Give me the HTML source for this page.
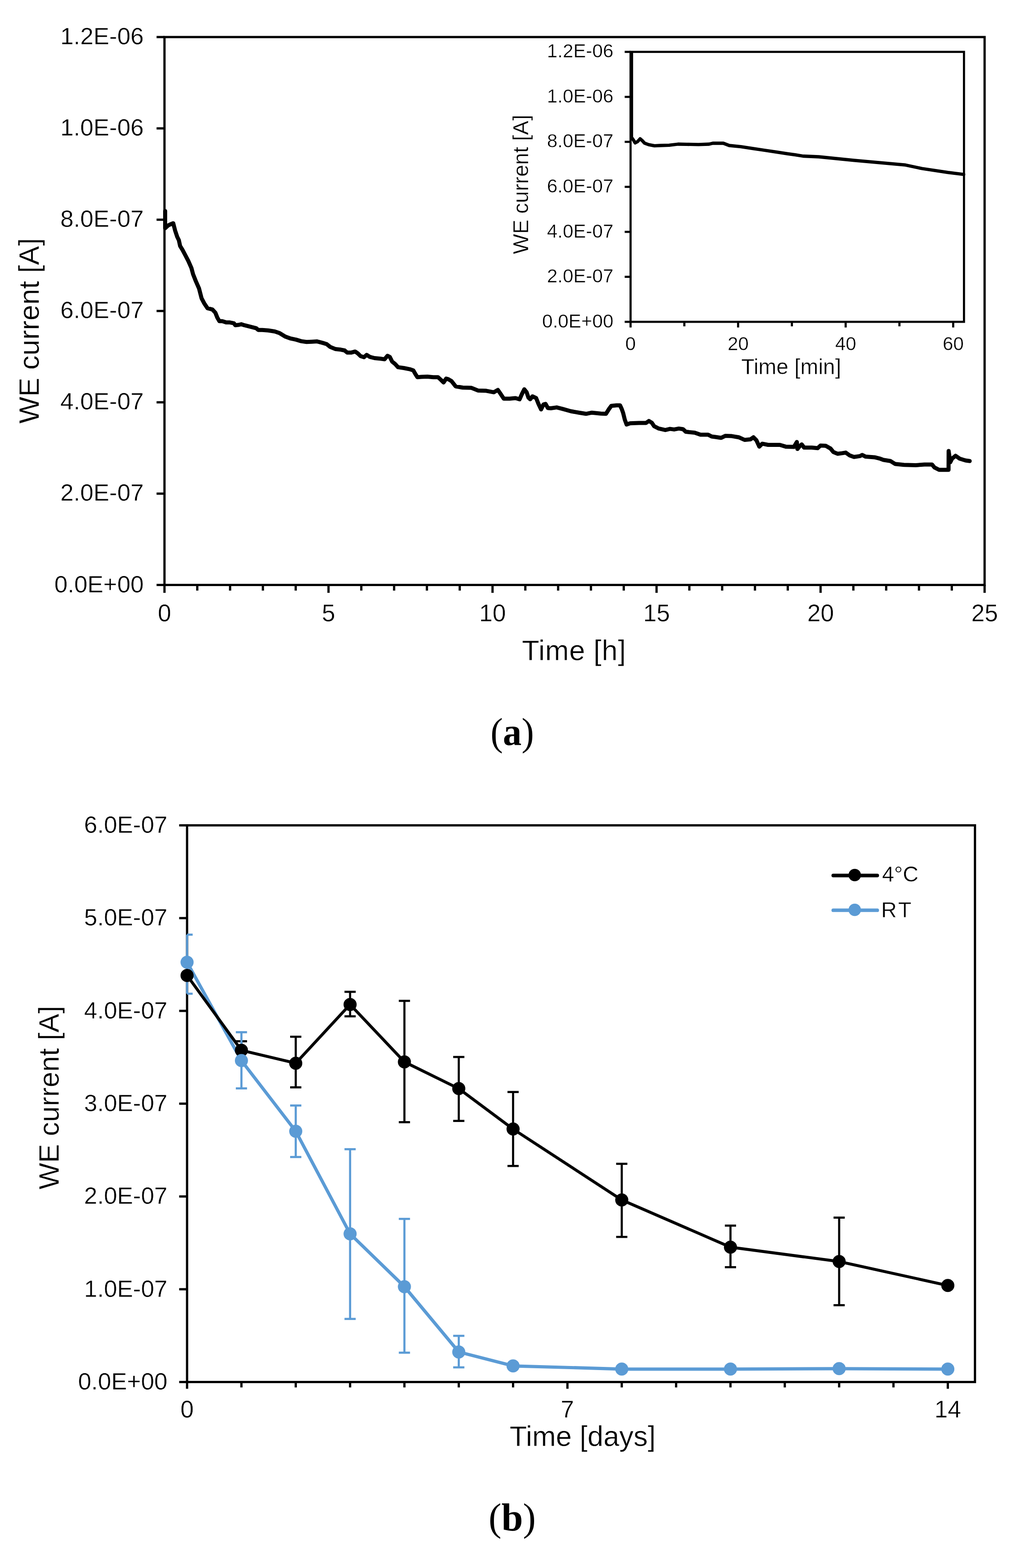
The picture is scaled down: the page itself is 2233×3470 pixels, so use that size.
<!DOCTYPE html>
<html><head><meta charset="utf-8"><title>Figure</title>
<style>html,body{margin:0;padding:0;background:#fff;} svg{display:block;}</style>
</head><body>
<svg width="2233" height="3470" viewBox="0 0 2233 3470">
<rect width="2233" height="3470" fill="#fff"/>
<rect x="364.0" y="82.0" width="1815.0" height="1212.5" fill="none" stroke="#000" stroke-width="5"/>
<line x1="346.5" y1="1294.5" x2="364.0" y2="1294.5" stroke="#000" stroke-width="5" stroke-linecap="butt"/>
<line x1="346.5" y1="1092.4" x2="364.0" y2="1092.4" stroke="#000" stroke-width="5" stroke-linecap="butt"/>
<line x1="346.5" y1="890.3" x2="364.0" y2="890.3" stroke="#000" stroke-width="5" stroke-linecap="butt"/>
<line x1="346.5" y1="688.2" x2="364.0" y2="688.2" stroke="#000" stroke-width="5" stroke-linecap="butt"/>
<line x1="346.5" y1="486.2" x2="364.0" y2="486.2" stroke="#000" stroke-width="5" stroke-linecap="butt"/>
<line x1="346.5" y1="284.1" x2="364.0" y2="284.1" stroke="#000" stroke-width="5" stroke-linecap="butt"/>
<line x1="346.5" y1="82.0" x2="364.0" y2="82.0" stroke="#000" stroke-width="5" stroke-linecap="butt"/>
<text x="318.0" y="1310.5" font-size="52.7" text-anchor="end" font-family='"Liberation Sans", Arial, sans-serif' stroke="#fff" stroke-width="0.5" >0.0E+00</text>
<text x="318.0" y="1108.4" font-size="52.7" text-anchor="end" font-family='"Liberation Sans", Arial, sans-serif' stroke="#fff" stroke-width="0.5" >2.0E-07</text>
<text x="318.0" y="906.3" font-size="52.7" text-anchor="end" font-family='"Liberation Sans", Arial, sans-serif' stroke="#fff" stroke-width="0.5" >4.0E-07</text>
<text x="318.0" y="704.2" font-size="52.7" text-anchor="end" font-family='"Liberation Sans", Arial, sans-serif' stroke="#fff" stroke-width="0.5" >6.0E-07</text>
<text x="318.0" y="502.2" font-size="52.7" text-anchor="end" font-family='"Liberation Sans", Arial, sans-serif' stroke="#fff" stroke-width="0.5" >8.0E-07</text>
<text x="318.0" y="300.1" font-size="52.7" text-anchor="end" font-family='"Liberation Sans", Arial, sans-serif' stroke="#fff" stroke-width="0.5" >1.0E-06</text>
<text x="318.0" y="98.0" font-size="52.7" text-anchor="end" font-family='"Liberation Sans", Arial, sans-serif' stroke="#fff" stroke-width="0.5" >1.2E-06</text>
<line x1="364.0" y1="1294.5" x2="364.0" y2="1312.0" stroke="#000" stroke-width="5" stroke-linecap="butt"/>
<line x1="436.6" y1="1294.5" x2="436.6" y2="1307.0" stroke="#000" stroke-width="5" stroke-linecap="butt"/>
<line x1="509.2" y1="1294.5" x2="509.2" y2="1307.0" stroke="#000" stroke-width="5" stroke-linecap="butt"/>
<line x1="581.8" y1="1294.5" x2="581.8" y2="1307.0" stroke="#000" stroke-width="5" stroke-linecap="butt"/>
<line x1="654.4" y1="1294.5" x2="654.4" y2="1307.0" stroke="#000" stroke-width="5" stroke-linecap="butt"/>
<line x1="727.0" y1="1294.5" x2="727.0" y2="1312.0" stroke="#000" stroke-width="5" stroke-linecap="butt"/>
<line x1="799.6" y1="1294.5" x2="799.6" y2="1307.0" stroke="#000" stroke-width="5" stroke-linecap="butt"/>
<line x1="872.2" y1="1294.5" x2="872.2" y2="1307.0" stroke="#000" stroke-width="5" stroke-linecap="butt"/>
<line x1="944.8" y1="1294.5" x2="944.8" y2="1307.0" stroke="#000" stroke-width="5" stroke-linecap="butt"/>
<line x1="1017.4" y1="1294.5" x2="1017.4" y2="1307.0" stroke="#000" stroke-width="5" stroke-linecap="butt"/>
<line x1="1090.0" y1="1294.5" x2="1090.0" y2="1312.0" stroke="#000" stroke-width="5" stroke-linecap="butt"/>
<line x1="1162.6" y1="1294.5" x2="1162.6" y2="1307.0" stroke="#000" stroke-width="5" stroke-linecap="butt"/>
<line x1="1235.2" y1="1294.5" x2="1235.2" y2="1307.0" stroke="#000" stroke-width="5" stroke-linecap="butt"/>
<line x1="1307.8" y1="1294.5" x2="1307.8" y2="1307.0" stroke="#000" stroke-width="5" stroke-linecap="butt"/>
<line x1="1380.4" y1="1294.5" x2="1380.4" y2="1307.0" stroke="#000" stroke-width="5" stroke-linecap="butt"/>
<line x1="1453.0" y1="1294.5" x2="1453.0" y2="1312.0" stroke="#000" stroke-width="5" stroke-linecap="butt"/>
<line x1="1525.6" y1="1294.5" x2="1525.6" y2="1307.0" stroke="#000" stroke-width="5" stroke-linecap="butt"/>
<line x1="1598.2" y1="1294.5" x2="1598.2" y2="1307.0" stroke="#000" stroke-width="5" stroke-linecap="butt"/>
<line x1="1670.8" y1="1294.5" x2="1670.8" y2="1307.0" stroke="#000" stroke-width="5" stroke-linecap="butt"/>
<line x1="1743.4" y1="1294.5" x2="1743.4" y2="1307.0" stroke="#000" stroke-width="5" stroke-linecap="butt"/>
<line x1="1816.0" y1="1294.5" x2="1816.0" y2="1312.0" stroke="#000" stroke-width="5" stroke-linecap="butt"/>
<line x1="1888.6" y1="1294.5" x2="1888.6" y2="1307.0" stroke="#000" stroke-width="5" stroke-linecap="butt"/>
<line x1="1961.2" y1="1294.5" x2="1961.2" y2="1307.0" stroke="#000" stroke-width="5" stroke-linecap="butt"/>
<line x1="2033.8" y1="1294.5" x2="2033.8" y2="1307.0" stroke="#000" stroke-width="5" stroke-linecap="butt"/>
<line x1="2106.4" y1="1294.5" x2="2106.4" y2="1307.0" stroke="#000" stroke-width="5" stroke-linecap="butt"/>
<line x1="2179.0" y1="1294.5" x2="2179.0" y2="1312.0" stroke="#000" stroke-width="5" stroke-linecap="butt"/>
<text x="364.0" y="1374.8" font-size="53.2" text-anchor="middle" font-family='"Liberation Sans", Arial, sans-serif' stroke="#fff" stroke-width="0.5" >0</text>
<text x="727.0" y="1374.8" font-size="53.2" text-anchor="middle" font-family='"Liberation Sans", Arial, sans-serif' stroke="#fff" stroke-width="0.5" >5</text>
<text x="1090.0" y="1374.8" font-size="53.2" text-anchor="middle" font-family='"Liberation Sans", Arial, sans-serif' stroke="#fff" stroke-width="0.5" >10</text>
<text x="1453.0" y="1374.8" font-size="53.2" text-anchor="middle" font-family='"Liberation Sans", Arial, sans-serif' stroke="#fff" stroke-width="0.5" >15</text>
<text x="1816.0" y="1374.8" font-size="53.2" text-anchor="middle" font-family='"Liberation Sans", Arial, sans-serif' stroke="#fff" stroke-width="0.5" >20</text>
<text x="2179.0" y="1374.8" font-size="53.2" text-anchor="middle" font-family='"Liberation Sans", Arial, sans-serif' stroke="#fff" stroke-width="0.5" >25</text>
<text x="1270.0" y="1460.7" font-size="63" text-anchor="middle" font-family='"Liberation Sans", Arial, sans-serif' stroke="#fff" stroke-width="0.5" textLength="230" lengthAdjust="spacing">Time [h]</text>
<text transform="translate(85.8,732.2) rotate(-90)" x="0" y="0" font-size="63.2" text-anchor="middle" font-family='"Liberation Sans", Arial, sans-serif' stroke="#fff" stroke-width="0.5">WE current [A]</text>
<polyline points="365.5,467.0 365.5,505.0 372.0,499.0 377.0,496.5 383.4,494.0 387.6,510.3 392.2,524.1 395.8,531.5 398.6,544.3 403.7,552.6 410.5,565.5 416.7,577.4 423.6,593.0 427.3,606.8 433.5,622.5 440.4,638.1 446.1,660.1 451.9,671.2 459.3,682.2 470.0,684.9 476.6,692.0 481.0,703.0 485.5,710.8 492.0,710.8 501.0,713.6 508.6,713.6 517.5,715.3 520.8,719.7 527.4,719.1 534.0,717.5 540.6,719.7 549.5,721.9 558.3,724.1 567.1,726.3 571.5,730.2 580.4,730.2 593.6,731.3 608.0,733.5 619.0,737.3 631.7,745.1 643.4,749.2 655.1,751.6 666.8,755.1 678.4,756.8 690.1,756.2 701.8,755.6 713.5,758.6 722.9,761.5 731.0,767.9 742.7,772.6 754.4,773.8 762.6,775.5 768.4,780.2 777.8,780.2 786.0,777.9 791.8,782.0 797.8,787.9 805.6,790.5 811.4,785.3 818.6,789.9 829.0,792.5 842.0,793.8 851.0,795.1 857.5,787.3 862.7,789.9 867.9,800.3 874.4,805.5 880.9,812.6 893.9,814.5 906.9,817.1 914.7,819.7 919.9,828.8 923.8,834.7 932.9,834.0 945.8,833.4 958.8,834.7 969.2,834.7 975.7,840.5 981.6,846.4 987.4,837.9 991.5,838.8 999.3,843.4 1008.4,855.1 1024.0,857.7 1043.4,858.3 1057.7,864.2 1075.9,864.8 1092.8,868.1 1101.9,862.9 1107.1,870.6 1114.9,882.3 1127.9,882.3 1140.8,881.0 1149.9,883.6 1155.1,871.9 1160.3,861.6 1165.5,868.1 1169.4,879.7 1173.3,883.6 1178.5,877.1 1186.5,880.8 1191.7,893.8 1197.5,906.1 1202.7,895.1 1207.3,893.8 1212.5,902.9 1219.0,903.5 1232.0,901.6 1244.9,904.8 1263.1,910.0 1281.3,913.2 1296.9,915.8 1309.9,913.2 1329.4,915.2 1341.0,915.8 1347.5,905.5 1352.7,898.3 1364.4,897.0 1372.2,897.0 1376.1,905.5 1378.9,913.4 1382.8,929.0 1386.7,939.4 1394.5,936.8 1414.0,936.1 1429.5,936.1 1436.0,931.6 1442.5,935.5 1447.7,943.2 1458.1,948.4 1472.4,951.7 1482.8,949.1 1491.9,950.4 1502.3,948.4 1511.4,949.7 1517.9,955.6 1537.3,957.5 1550.3,962.1 1567.2,962.1 1575.0,966.0 1583.0,967.0 1596.0,969.0 1605.1,964.4 1619.4,965.1 1634.9,967.7 1647.9,973.5 1660.9,972.2 1667.4,967.7 1673.9,974.2 1680.4,988.4 1686.9,981.9 1699.9,984.5 1725.8,984.5 1738.8,988.4 1757.0,989.1 1763.5,978.1 1764.8,993.6 1770.0,987.1 1774.3,983.4 1779.5,990.5 1796.4,990.5 1809.4,991.8 1815.8,986.0 1827.5,986.6 1837.9,992.5 1844.4,1000.3 1853.5,1004.2 1863.9,1002.9 1871.7,1001.6 1880.8,1008.1 1889.9,1011.3 1902.9,1009.4 1908.1,1006.8 1915.8,1010.6 1935.3,1011.9 1948.3,1015.2 1955.0,1017.7 1970.6,1020.3 1981.0,1026.8 2000.5,1028.7 2026.4,1029.4 2045.9,1028.1 2062.8,1028.1 2068.0,1034.5 2078.4,1039.7 2099.2,1039.7 2099.4,998.0 2103.0,1022.9 2107.0,1015.0 2114.7,1008.6 2123.8,1015.0 2136.8,1019.0 2146.0,1020.3" fill="none" stroke="#000" stroke-width="9" stroke-linejoin="round" stroke-linecap="round"/>
<rect x="1395.5" y="114.8" width="737.9000000000001" height="597.4000000000001" fill="#fff" stroke="#000" stroke-width="4.7"/>
<line x1="1382.5" y1="712.2" x2="1395.5" y2="712.2" stroke="#000" stroke-width="4.7" stroke-linecap="butt"/>
<line x1="1382.5" y1="612.6" x2="1395.5" y2="612.6" stroke="#000" stroke-width="4.7" stroke-linecap="butt"/>
<line x1="1382.5" y1="513.1" x2="1395.5" y2="513.1" stroke="#000" stroke-width="4.7" stroke-linecap="butt"/>
<line x1="1382.5" y1="413.5" x2="1395.5" y2="413.5" stroke="#000" stroke-width="4.7" stroke-linecap="butt"/>
<line x1="1382.5" y1="313.9" x2="1395.5" y2="313.9" stroke="#000" stroke-width="4.7" stroke-linecap="butt"/>
<line x1="1382.5" y1="214.4" x2="1395.5" y2="214.4" stroke="#000" stroke-width="4.7" stroke-linecap="butt"/>
<line x1="1382.5" y1="114.8" x2="1395.5" y2="114.8" stroke="#000" stroke-width="4.7" stroke-linecap="butt"/>
<text x="1357.5" y="724.7" font-size="42" text-anchor="end" font-family='"Liberation Sans", Arial, sans-serif' stroke="#fff" stroke-width="0.5" >0.0E+00</text>
<text x="1357.5" y="625.1" font-size="42" text-anchor="end" font-family='"Liberation Sans", Arial, sans-serif' stroke="#fff" stroke-width="0.5" >2.0E-07</text>
<text x="1357.5" y="525.6" font-size="42" text-anchor="end" font-family='"Liberation Sans", Arial, sans-serif' stroke="#fff" stroke-width="0.5" >4.0E-07</text>
<text x="1357.5" y="426.0" font-size="42" text-anchor="end" font-family='"Liberation Sans", Arial, sans-serif' stroke="#fff" stroke-width="0.5" >6.0E-07</text>
<text x="1357.5" y="326.4" font-size="42" text-anchor="end" font-family='"Liberation Sans", Arial, sans-serif' stroke="#fff" stroke-width="0.5" >8.0E-07</text>
<text x="1357.5" y="226.9" font-size="42" text-anchor="end" font-family='"Liberation Sans", Arial, sans-serif' stroke="#fff" stroke-width="0.5" >1.0E-06</text>
<text x="1357.5" y="127.3" font-size="42" text-anchor="end" font-family='"Liberation Sans", Arial, sans-serif' stroke="#fff" stroke-width="0.5" >1.2E-06</text>
<line x1="1395.5" y1="712.2" x2="1395.5" y2="724.7" stroke="#000" stroke-width="4.7" stroke-linecap="butt"/>
<line x1="1514.5" y1="712.2" x2="1514.5" y2="722.2" stroke="#000" stroke-width="4.7" stroke-linecap="butt"/>
<line x1="1633.5" y1="712.2" x2="1633.5" y2="724.7" stroke="#000" stroke-width="4.7" stroke-linecap="butt"/>
<line x1="1752.5" y1="712.2" x2="1752.5" y2="722.2" stroke="#000" stroke-width="4.7" stroke-linecap="butt"/>
<line x1="1871.5" y1="712.2" x2="1871.5" y2="724.7" stroke="#000" stroke-width="4.7" stroke-linecap="butt"/>
<line x1="1990.5" y1="712.2" x2="1990.5" y2="722.2" stroke="#000" stroke-width="4.7" stroke-linecap="butt"/>
<line x1="2109.5" y1="712.2" x2="2109.5" y2="724.7" stroke="#000" stroke-width="4.7" stroke-linecap="butt"/>
<text x="1395.5" y="774.5" font-size="42" text-anchor="middle" font-family='"Liberation Sans", Arial, sans-serif' stroke="#fff" stroke-width="0.5" >0</text>
<text x="1633.5" y="774.5" font-size="42" text-anchor="middle" font-family='"Liberation Sans", Arial, sans-serif' stroke="#fff" stroke-width="0.5" >20</text>
<text x="1871.5" y="774.5" font-size="42" text-anchor="middle" font-family='"Liberation Sans", Arial, sans-serif' stroke="#fff" stroke-width="0.5" >40</text>
<text x="2109.5" y="774.5" font-size="42" text-anchor="middle" font-family='"Liberation Sans", Arial, sans-serif' stroke="#fff" stroke-width="0.5" >60</text>
<text x="1751.0" y="828.2" font-size="47.7" text-anchor="middle" font-family='"Liberation Sans", Arial, sans-serif' stroke="#fff" stroke-width="0.5" >Time [min]</text>
<text transform="translate(1168.7,408.2) rotate(-90)" x="0" y="0" font-size="47.5" text-anchor="middle" font-family='"Liberation Sans", Arial, sans-serif' stroke="#fff" stroke-width="0.5">WE current [A]</text>
<polyline points="1397.5,118.0 1397.5,304.0 1401.7,309.7 1405.6,316.2 1410.8,313.6 1416.6,307.1 1421.2,311.0 1426.4,316.8 1435.5,320.1 1448.4,322.7 1461.4,322.0 1480.9,321.4 1500.4,319.0 1519.9,319.4 1545.8,319.8 1569.2,319.0 1577.4,317.0 1600.8,317.0 1613.8,322.0 1639.7,324.7 1665.7,328.6 1691.7,332.5 1717.7,336.4 1743.6,340.3 1760.0,342.6 1777.4,345.5 1812.0,347.0 1890.0,354.8 1967.8,361.8 2004.0,365.2 2040.5,373.0 2097.7,381.6 2132.7,386.0" fill="none" stroke="#000" stroke-width="7.3" stroke-linejoin="round" stroke-linecap="round"/>
<g transform="translate(1133.7,0) scale(0.955,1) translate(-1133.7,0)">
<text x="1133.7" y="1649.5" font-size="86.5" text-anchor="middle" font-family='"Liberation Serif", "Times New Roman", serif'  >(<tspan font-weight="bold">a</tspan>)</text>
</g>
<rect x="414.0" y="1826.5" width="1743.6999999999998" height="1231.9" fill="none" stroke="#000" stroke-width="5"/>
<line x1="396.5" y1="3058.4" x2="414.0" y2="3058.4" stroke="#000" stroke-width="5" stroke-linecap="butt"/>
<text x="370.5" y="3074.9" font-size="52.7" text-anchor="end" font-family='"Liberation Sans", Arial, sans-serif' stroke="#fff" stroke-width="0.5" >0.0E+00</text>
<line x1="396.5" y1="2853.1" x2="414.0" y2="2853.1" stroke="#000" stroke-width="5" stroke-linecap="butt"/>
<text x="370.5" y="2869.6" font-size="52.7" text-anchor="end" font-family='"Liberation Sans", Arial, sans-serif' stroke="#fff" stroke-width="0.5" >1.0E-07</text>
<line x1="396.5" y1="2647.8" x2="414.0" y2="2647.8" stroke="#000" stroke-width="5" stroke-linecap="butt"/>
<text x="370.5" y="2664.3" font-size="52.7" text-anchor="end" font-family='"Liberation Sans", Arial, sans-serif' stroke="#fff" stroke-width="0.5" >2.0E-07</text>
<line x1="396.5" y1="2442.4" x2="414.0" y2="2442.4" stroke="#000" stroke-width="5" stroke-linecap="butt"/>
<text x="370.5" y="2458.9" font-size="52.7" text-anchor="end" font-family='"Liberation Sans", Arial, sans-serif' stroke="#fff" stroke-width="0.5" >3.0E-07</text>
<line x1="396.5" y1="2237.1" x2="414.0" y2="2237.1" stroke="#000" stroke-width="5" stroke-linecap="butt"/>
<text x="370.5" y="2253.6" font-size="52.7" text-anchor="end" font-family='"Liberation Sans", Arial, sans-serif' stroke="#fff" stroke-width="0.5" >4.0E-07</text>
<line x1="396.5" y1="2031.8" x2="414.0" y2="2031.8" stroke="#000" stroke-width="5" stroke-linecap="butt"/>
<text x="370.5" y="2048.3" font-size="52.7" text-anchor="end" font-family='"Liberation Sans", Arial, sans-serif' stroke="#fff" stroke-width="0.5" >5.0E-07</text>
<line x1="396.5" y1="1826.5" x2="414.0" y2="1826.5" stroke="#000" stroke-width="5" stroke-linecap="butt"/>
<text x="370.5" y="1843.0" font-size="52.7" text-anchor="end" font-family='"Liberation Sans", Arial, sans-serif' stroke="#fff" stroke-width="0.5" >6.0E-07</text>
<line x1="414.0" y1="3058.4" x2="414.0" y2="3073.4" stroke="#000" stroke-width="5" stroke-linecap="butt"/>
<line x1="534.3" y1="3058.4" x2="534.3" y2="3070.4" stroke="#000" stroke-width="5" stroke-linecap="butt"/>
<line x1="654.5" y1="3058.4" x2="654.5" y2="3070.4" stroke="#000" stroke-width="5" stroke-linecap="butt"/>
<line x1="774.8" y1="3058.4" x2="774.8" y2="3070.4" stroke="#000" stroke-width="5" stroke-linecap="butt"/>
<line x1="895.0" y1="3058.4" x2="895.0" y2="3070.4" stroke="#000" stroke-width="5" stroke-linecap="butt"/>
<line x1="1015.3" y1="3058.4" x2="1015.3" y2="3070.4" stroke="#000" stroke-width="5" stroke-linecap="butt"/>
<line x1="1135.5" y1="3058.4" x2="1135.5" y2="3070.4" stroke="#000" stroke-width="5" stroke-linecap="butt"/>
<line x1="1255.8" y1="3058.4" x2="1255.8" y2="3073.4" stroke="#000" stroke-width="5" stroke-linecap="butt"/>
<line x1="1376.0" y1="3058.4" x2="1376.0" y2="3070.4" stroke="#000" stroke-width="5" stroke-linecap="butt"/>
<line x1="1496.3" y1="3058.4" x2="1496.3" y2="3070.4" stroke="#000" stroke-width="5" stroke-linecap="butt"/>
<line x1="1616.6" y1="3058.4" x2="1616.6" y2="3070.4" stroke="#000" stroke-width="5" stroke-linecap="butt"/>
<line x1="1736.8" y1="3058.4" x2="1736.8" y2="3070.4" stroke="#000" stroke-width="5" stroke-linecap="butt"/>
<line x1="1857.1" y1="3058.4" x2="1857.1" y2="3070.4" stroke="#000" stroke-width="5" stroke-linecap="butt"/>
<line x1="1977.3" y1="3058.4" x2="1977.3" y2="3070.4" stroke="#000" stroke-width="5" stroke-linecap="butt"/>
<line x1="2097.6" y1="3058.4" x2="2097.6" y2="3073.4" stroke="#000" stroke-width="5" stroke-linecap="butt"/>
<text x="414.0" y="3137.0" font-size="53" text-anchor="middle" font-family='"Liberation Sans", Arial, sans-serif' stroke="#fff" stroke-width="0.5" >0</text>
<text x="1255.8" y="3137.0" font-size="53" text-anchor="middle" font-family='"Liberation Sans", Arial, sans-serif' stroke="#fff" stroke-width="0.5" >7</text>
<text x="2097.6" y="3137.0" font-size="53" text-anchor="middle" font-family='"Liberation Sans", Arial, sans-serif' stroke="#fff" stroke-width="0.5" >14</text>
<text x="1289.3" y="3200.0" font-size="63" text-anchor="middle" font-family='"Liberation Sans", Arial, sans-serif' stroke="#fff" stroke-width="0.5" >Time [days]</text>
<text transform="translate(130.1,2429) rotate(-90)" x="0" y="0" font-size="62.5" text-anchor="middle" font-family='"Liberation Sans", Arial, sans-serif' stroke="#fff" stroke-width="0.5">WE current [A]</text>
<line x1="534.3" y1="2304.3" x2="534.3" y2="2344.3" stroke="#000" stroke-width="4.7" stroke-linecap="butt"/>
<line x1="521.9" y1="2304.3" x2="546.7" y2="2304.3" stroke="#000" stroke-width="4.7" stroke-linecap="butt"/>
<line x1="521.9" y1="2344.3" x2="546.7" y2="2344.3" stroke="#000" stroke-width="4.7" stroke-linecap="butt"/>
<line x1="654.5" y1="2294.3" x2="654.5" y2="2406.3" stroke="#000" stroke-width="4.7" stroke-linecap="butt"/>
<line x1="642.1" y1="2294.3" x2="666.9" y2="2294.3" stroke="#000" stroke-width="4.7" stroke-linecap="butt"/>
<line x1="642.1" y1="2406.3" x2="666.9" y2="2406.3" stroke="#000" stroke-width="4.7" stroke-linecap="butt"/>
<line x1="774.8" y1="2194.9" x2="774.8" y2="2249.1" stroke="#000" stroke-width="4.7" stroke-linecap="butt"/>
<line x1="762.4" y1="2194.9" x2="787.2" y2="2194.9" stroke="#000" stroke-width="4.7" stroke-linecap="butt"/>
<line x1="762.4" y1="2249.1" x2="787.2" y2="2249.1" stroke="#000" stroke-width="4.7" stroke-linecap="butt"/>
<line x1="895.0" y1="2214.9" x2="895.0" y2="2483.4" stroke="#000" stroke-width="4.7" stroke-linecap="butt"/>
<line x1="882.6" y1="2214.9" x2="907.4" y2="2214.9" stroke="#000" stroke-width="4.7" stroke-linecap="butt"/>
<line x1="882.6" y1="2483.4" x2="907.4" y2="2483.4" stroke="#000" stroke-width="4.7" stroke-linecap="butt"/>
<line x1="1015.3" y1="2339.1" x2="1015.3" y2="2480.6" stroke="#000" stroke-width="4.7" stroke-linecap="butt"/>
<line x1="1002.9" y1="2339.1" x2="1027.7" y2="2339.1" stroke="#000" stroke-width="4.7" stroke-linecap="butt"/>
<line x1="1002.9" y1="2480.6" x2="1027.7" y2="2480.6" stroke="#000" stroke-width="4.7" stroke-linecap="butt"/>
<line x1="1135.5" y1="2416.6" x2="1135.5" y2="2580.3" stroke="#000" stroke-width="4.7" stroke-linecap="butt"/>
<line x1="1123.1" y1="2416.6" x2="1147.9" y2="2416.6" stroke="#000" stroke-width="4.7" stroke-linecap="butt"/>
<line x1="1123.1" y1="2580.3" x2="1147.9" y2="2580.3" stroke="#000" stroke-width="4.7" stroke-linecap="butt"/>
<line x1="1376.0" y1="2575.5" x2="1376.0" y2="2737.3" stroke="#000" stroke-width="4.7" stroke-linecap="butt"/>
<line x1="1363.6" y1="2575.5" x2="1388.4" y2="2575.5" stroke="#000" stroke-width="4.7" stroke-linecap="butt"/>
<line x1="1363.6" y1="2737.3" x2="1388.4" y2="2737.3" stroke="#000" stroke-width="4.7" stroke-linecap="butt"/>
<line x1="1616.6" y1="2712.3" x2="1616.6" y2="2804.3" stroke="#000" stroke-width="4.7" stroke-linecap="butt"/>
<line x1="1604.2" y1="2712.3" x2="1629.0" y2="2712.3" stroke="#000" stroke-width="4.7" stroke-linecap="butt"/>
<line x1="1604.2" y1="2804.3" x2="1629.0" y2="2804.3" stroke="#000" stroke-width="4.7" stroke-linecap="butt"/>
<line x1="1857.1" y1="2694.6" x2="1857.1" y2="2888.4" stroke="#000" stroke-width="4.7" stroke-linecap="butt"/>
<line x1="1844.7" y1="2694.6" x2="1869.5" y2="2694.6" stroke="#000" stroke-width="4.7" stroke-linecap="butt"/>
<line x1="1844.7" y1="2888.4" x2="1869.5" y2="2888.4" stroke="#000" stroke-width="4.7" stroke-linecap="butt"/>
<line x1="414.0" y1="2068.4" x2="414.0" y2="2199.1" stroke="#5B9BD5" stroke-width="4.7" stroke-linecap="butt"/>
<line x1="414.0" y1="2068.4" x2="426.4" y2="2068.4" stroke="#5B9BD5" stroke-width="4.7" stroke-linecap="butt"/>
<line x1="414.0" y1="2199.1" x2="426.4" y2="2199.1" stroke="#5B9BD5" stroke-width="4.7" stroke-linecap="butt"/>
<line x1="534.3" y1="2284.3" x2="534.3" y2="2408.6" stroke="#5B9BD5" stroke-width="4.7" stroke-linecap="butt"/>
<line x1="521.9" y1="2284.3" x2="546.7" y2="2284.3" stroke="#5B9BD5" stroke-width="4.7" stroke-linecap="butt"/>
<line x1="521.9" y1="2408.6" x2="546.7" y2="2408.6" stroke="#5B9BD5" stroke-width="4.7" stroke-linecap="butt"/>
<line x1="654.5" y1="2446.5" x2="654.5" y2="2560.5" stroke="#5B9BD5" stroke-width="4.7" stroke-linecap="butt"/>
<line x1="642.1" y1="2446.5" x2="666.9" y2="2446.5" stroke="#5B9BD5" stroke-width="4.7" stroke-linecap="butt"/>
<line x1="642.1" y1="2560.5" x2="666.9" y2="2560.5" stroke="#5B9BD5" stroke-width="4.7" stroke-linecap="butt"/>
<line x1="774.8" y1="2543.2" x2="774.8" y2="2918.8" stroke="#5B9BD5" stroke-width="4.7" stroke-linecap="butt"/>
<line x1="762.4" y1="2543.2" x2="787.2" y2="2543.2" stroke="#5B9BD5" stroke-width="4.7" stroke-linecap="butt"/>
<line x1="762.4" y1="2918.8" x2="787.2" y2="2918.8" stroke="#5B9BD5" stroke-width="4.7" stroke-linecap="butt"/>
<line x1="895.0" y1="2697.4" x2="895.0" y2="2993.5" stroke="#5B9BD5" stroke-width="4.7" stroke-linecap="butt"/>
<line x1="882.6" y1="2697.4" x2="907.4" y2="2697.4" stroke="#5B9BD5" stroke-width="4.7" stroke-linecap="butt"/>
<line x1="882.6" y1="2993.5" x2="907.4" y2="2993.5" stroke="#5B9BD5" stroke-width="4.7" stroke-linecap="butt"/>
<line x1="1015.3" y1="2956.2" x2="1015.3" y2="3026.0" stroke="#5B9BD5" stroke-width="4.7" stroke-linecap="butt"/>
<line x1="1002.9" y1="2956.2" x2="1027.7" y2="2956.2" stroke="#5B9BD5" stroke-width="4.7" stroke-linecap="butt"/>
<line x1="1002.9" y1="3026.0" x2="1027.7" y2="3026.0" stroke="#5B9BD5" stroke-width="4.7" stroke-linecap="butt"/>
<polyline points="414.0,2129.4 534.3,2347.1 654.5,2503.4 774.8,2730.5 895.0,2847.4 1015.3,2991.9 1135.5,3022.8 1376.0,3029.8 1616.6,3029.8 1857.1,3028.8 2097.6,3029.8" fill="none" stroke="#5B9BD5" stroke-width="7.2" stroke-linejoin="round" stroke-linecap="round"/>
<polyline points="414.0,2158.7 534.3,2324.3 654.5,2352.9 774.8,2222.9 895.0,2350.0 1015.3,2409.1 1135.5,2498.6 1376.0,2655.5 1616.6,2760.0 1857.1,2791.8 2097.6,2844.8" fill="none" stroke="#000" stroke-width="6.5" stroke-linejoin="round" stroke-linecap="round"/>
<circle cx="414.0" cy="2158.7" r="14.5" fill="#000"/>
<circle cx="534.3" cy="2324.3" r="14.5" fill="#000"/>
<circle cx="654.5" cy="2352.9" r="14.5" fill="#000"/>
<circle cx="774.8" cy="2222.9" r="14.5" fill="#000"/>
<circle cx="895.0" cy="2350.0" r="14.5" fill="#000"/>
<circle cx="1015.3" cy="2409.1" r="14.5" fill="#000"/>
<circle cx="1135.5" cy="2498.6" r="14.5" fill="#000"/>
<circle cx="1376.0" cy="2655.5" r="14.5" fill="#000"/>
<circle cx="1616.6" cy="2760.0" r="14.5" fill="#000"/>
<circle cx="1857.1" cy="2791.8" r="14.5" fill="#000"/>
<circle cx="2097.6" cy="2844.8" r="14.5" fill="#000"/>
<circle cx="414.0" cy="2129.4" r="14.5" fill="#5B9BD5"/>
<circle cx="534.3" cy="2347.1" r="14.5" fill="#5B9BD5"/>
<circle cx="654.5" cy="2503.4" r="14.5" fill="#5B9BD5"/>
<circle cx="774.8" cy="2730.5" r="14.5" fill="#5B9BD5"/>
<circle cx="895.0" cy="2847.4" r="14.5" fill="#5B9BD5"/>
<circle cx="1015.3" cy="2991.9" r="14.5" fill="#5B9BD5"/>
<circle cx="1135.5" cy="3022.8" r="14.5" fill="#5B9BD5"/>
<circle cx="1376.0" cy="3029.8" r="14.5" fill="#5B9BD5"/>
<circle cx="1616.6" cy="3029.8" r="14.5" fill="#5B9BD5"/>
<circle cx="1857.1" cy="3028.8" r="14.5" fill="#5B9BD5"/>
<circle cx="2097.6" cy="3029.8" r="14.5" fill="#5B9BD5"/>
<line x1="1844.0" y1="1937.5" x2="1941.5" y2="1937.5" stroke="#000" stroke-width="7.8" stroke-linecap="round"/>
<circle cx="1891.6" cy="1936.5" r="13.8" fill="#000"/>
<text x="1952.0" y="1950.5" font-size="48" text-anchor="start" font-family='"Liberation Sans", Arial, sans-serif' stroke="#fff" stroke-width="0.5" >4°C</text>
<line x1="1844.0" y1="2014.4" x2="1941.5" y2="2014.4" stroke="#5B9BD5" stroke-width="7.8" stroke-linecap="round"/>
<circle cx="1891.6" cy="2013.5" r="13.8" fill="#5B9BD5"/>
<text x="1950" y="2030.4" font-size="48" font-family='"Liberation Sans", Arial, sans-serif' stroke="#fff" stroke-width="0.5" textLength="67" lengthAdjust="spacing">RT</text>
<g transform="translate(1133.5,0) scale(0.985,1) translate(-1133.5,0)">
<text x="1133.5" y="3387.0" font-size="87" text-anchor="middle" font-family='"Liberation Serif", "Times New Roman", serif'  >(<tspan font-weight="bold">b</tspan>)</text>
</g>
</svg>
</body></html>
